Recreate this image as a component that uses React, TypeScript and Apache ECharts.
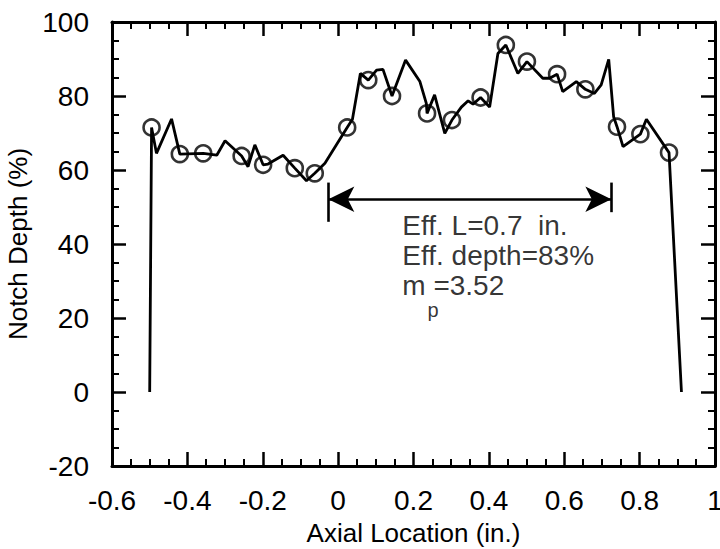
import React, { useEffect, useRef } from "react";
import * as echarts from "echarts";

// Profile line (x in inches, notch depth in %)
const lineX = [
  -0.5, -0.495, -0.482, -0.442, -0.42, -0.358, -0.322, -0.3, -0.256, -0.239,
  -0.221, -0.199, -0.186, -0.146, -0.115, -0.084, -0.062, -0.035, 0.024, 0.038,
  0.059, 0.08, 0.102, 0.119, 0.143, 0.179, 0.217, 0.234, 0.236, 0.256,
  0.283, 0.302, 0.327, 0.345, 0.358, 0.378, 0.402, 0.424, 0.445, 0.477,
  0.501, 0.543, 0.561, 0.581, 0.596, 0.632, 0.656, 0.68, 0.698, 0.718,
  0.731, 0.74, 0.756, 0.802, 0.818, 0.878, 0.911,
];
const lineY = [
  0, 71.5, 64.5, 73.8, 64.3, 64.5, 64.0, 67.9, 63.8, 60.9,
  66.8, 61.4, 61.6, 64.0, 60.5, 57.1, 59.1, 61.8, 71.5, 73.7,
  86.1, 84.3, 87.0, 87.2, 80.0, 89.7, 83.9, 78.0, 75.3, 80.3,
  69.9, 73.5, 77.0, 78.7, 77.8, 79.6, 77.0, 91.5, 93.8, 86.1,
  89.3, 84.8, 84.8, 85.9, 81.2, 83.9, 81.8, 80.7, 83.0, 89.9,
  74.4, 71.7, 66.3, 69.7, 73.7, 64.7, 0,
];

// Circle markers
const markerX = [
  -0.495, -0.42, -0.358, -0.256, -0.199, -0.115, -0.062, 0.024, 0.08, 0.143,
  0.236, 0.302, 0.378, 0.445, 0.501, 0.581, 0.656, 0.74, 0.802, 0.878,
];
const markerY = [
  71.5, 64.3, 64.5, 63.8, 61.4, 60.5, 59.1, 71.5, 84.3, 80.0,
  75.3, 73.5, 79.6, 93.8, 89.3, 85.9, 81.8, 71.7, 69.7, 64.7,
];

// Effective length annotation
const effStart = -0.026;
const effEnd = 0.725;
const arrowLevel = 52.1;
const leftBar = [46.0, 56.6];
const rightBar = [48.6, 56.6];

const annotTexts = ["Eff. L=0.7  in.", "Eff. depth=83%", "m =3.52"];
const annotX = [0.169, 0.169, 0.169];
const annotY = [44.9, 36.8, 28.9];
const subText = "p";
const subX = 0.236;
const subY = 22.2;

const xTicks = { min: -0.6, max: 1, interval: 0.2 };
const yTicks = { min: -20, max: 100, interval: 20 };

const FONT = "'Liberation Sans', Arial, Helvetica, sans-serif";

function axisBase(showLabels: boolean) {
  return {
    axisLine: { show: true, onZero: false, lineStyle: { color: "#000", width: 3 } },
    axisTick: { show: true, inside: true, length: 14, lineStyle: { color: "#000", width: 2.5 } },
    minorTick: { show: true, splitNumber: 4, length: 7, lineStyle: { color: "#000", width: 2 } },
    splitLine: { show: false },
    axisLabel: {
      show: showLabels,
      color: "#000",
      fontSize: 28,
      fontFamily: FONT,
    },
  };
}

export default function App() {
  const ref = useRef<HTMLDivElement>(null);
  useEffect(() => {
    if (!ref.current) return;
    const chart = echarts.init(ref.current, undefined, { renderer: "svg" });
    const bx = axisBase(true);
    const by = axisBase(true);
    chart.setOption({
      animation: false,
      grid: { left: 112, right: 5, top: 22, bottom: 83, outerBoundsMode: "none" },
      xAxis: [
        {
          type: "value",
          position: "bottom",
          ...xTicks,
          ...bx,
          axisLabel: { ...bx.axisLabel, margin: 20 },
          name: "Axial Location (in.)",
          nameLocation: "middle",
          nameGap: 54,
          nameTextStyle: { color: "#000", fontSize: 26, fontFamily: FONT },
        },
        {
          type: "value",
          position: "top",
          ...xTicks,
          ...axisBase(false),
        },
      ],
      yAxis: [
        {
          type: "value",
          position: "left",
          ...yTicks,
          ...by,
          axisLabel: { ...by.axisLabel, margin: 23 },
          name: "Notch Depth (%)",
          nameLocation: "middle",
          nameGap: 68,
          nameTextStyle: { color: "#000", fontSize: 26, fontFamily: FONT },
        },
        {
          type: "value",
          position: "right",
          ...yTicks,
          ...axisBase(false),
        },
      ],
      series: [
        {
          type: "line",
          xAxisIndex: 0,
          yAxisIndex: 0,
          data: lineX.map((x, i) => [x, lineY[i]]),
          symbol: "none",
          lineStyle: { color: "#000", width: 2.8 },
          z: 2,
        },
        {
          type: "scatter",
          xAxisIndex: 0,
          yAxisIndex: 0,
          data: markerX.map((x, i) => [x, markerY[i]]),
          symbol: "circle",
          symbolSize: 16,
          itemStyle: { color: "rgba(0,0,0,0)", borderColor: "#000", borderWidth: 2.6 },
          z: 3,
        },
        {
          type: "line",
          xAxisIndex: 0,
          yAxisIndex: 0,
          data: [],
          markLine: {
            silent: true,
            animation: false,
            symbol: ["none", "none"],
            label: { show: false },
            lineStyle: { color: "#000", width: 2.6, type: "solid" },
            data: [
              [
                { coord: [effStart, arrowLevel], symbol: "arrow", symbolSize: [19, 26] },
                { coord: [effEnd, arrowLevel], symbol: "arrow", symbolSize: [19, 26] },
              ],
              [
                { coord: [effStart, leftBar[0]], symbol: "none" },
                { coord: [effStart, leftBar[1]], symbol: "none" },
              ],
              [
                { coord: [effEnd, rightBar[0]], symbol: "none" },
                { coord: [effEnd, rightBar[1]], symbol: "none" },
              ],
            ],
          },
        },
        {
          type: "scatter",
          xAxisIndex: 0,
          yAxisIndex: 0,
          symbol: "circle",
          symbolSize: 1,
          itemStyle: { color: "rgba(0,0,0,0)" },
          silent: true,
          label: {
            show: true,
            position: "right",
            distance: 0,
            color: "#000",
            fontSize: 28,
            fontFamily: FONT,
            formatter: (p: any) => p.name,
          },
          data: [
            ...annotTexts.map((t, i) => ({ name: t, value: [annotX[i], annotY[i]] })),
            { name: subText, value: [subX, subY], label: { fontSize: 20 } },
          ],
        },
      ],
    });
    return () => chart.dispose();
  }, []);
  return (
    <div
      ref={ref}
      style={{ position: "fixed", left: 0, top: 0, width: 720, height: 549, background: "#fff" }}
    />
  );
}
